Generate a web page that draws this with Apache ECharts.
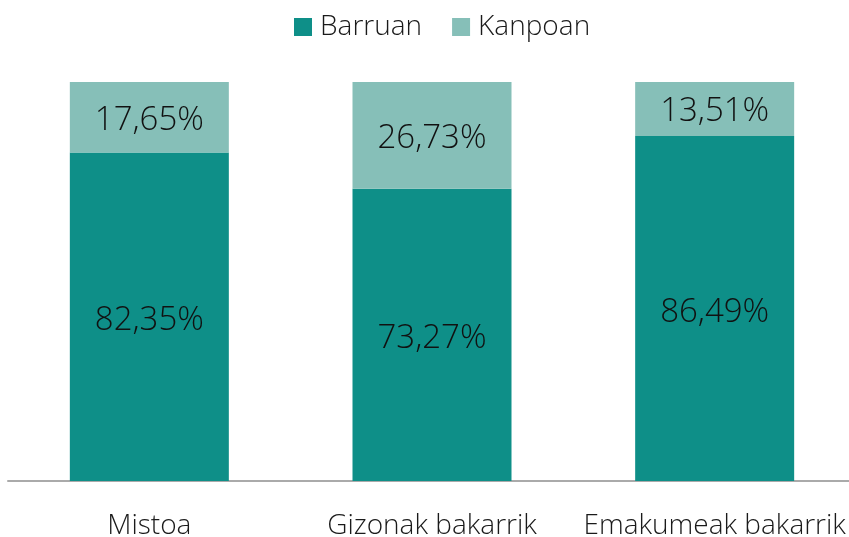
<!DOCTYPE html>
<html><head><meta charset="utf-8">
<script src="https://cdn.jsdelivr.net/npm/echarts@6/dist/echarts.min.js"></script>
<style>html,body{margin:0;padding:0;background:#fff}#c{width:849px;height:537px}</style>
</head><body><div id="c"></div>
<script>
const categories = ['Mistoa', 'Gizonak bakarrik', 'Emakumeak bakarrik'];
const barruan = [82.35, 73.27, 86.49];
const kanpoan = [17.65, 26.73, 13.51];
const FONT = '"Open Sans", sans-serif';
const fmt = p => p.value.toFixed(2).replace('.', ',') + '%';
const chart = echarts.init(document.getElementById('c'));
chart.setOption({
  animation: false,
  textStyle: { fontFamily: FONT },
  legend: {
    top: 8, left: 289, itemWidth: 18, itemHeight: 18, itemGap: 30,
    icon: 'rect',
    textStyle: { fontSize: 28, color: '#1a1a1a', fontFamily: FONT, fontWeight: 300, padding: [0, 0, 0, 3] },
    data: ['Barruan', 'Kanpoan']
  },
  grid: { left: 8, width: 848, top: 82, bottom: 56, containLabel: false, outerBoundsMode: 'none' },
  xAxis: {
    type: 'category', data: categories,
    axisLine: { lineStyle: { color: '#aaaaaa', width: 2 } },
    axisTick: { show: false },
    axisLabel: { interval: 0, hideOverlap: false, fontSize: 28, color: '#1a1a1a', margin: 31, fontFamily: FONT, fontWeight: 300 }
  },
  yAxis: { type: 'value', min: 0, max: 100, show: false, splitLine: { show: false } },
  series: [
    { name: 'Barruan', type: 'bar', stack: 't', data: barruan, barWidth: 159,
      itemStyle: { color: '#0e8f88' },
      label: { show: true, position: 'inside', offset: [0, 4], formatter: fmt, fontSize: 33, color: '#111', fontFamily: FONT, fontWeight: 300 } },
    { name: 'Kanpoan', type: 'bar', stack: 't', data: kanpoan, barWidth: 159,
      itemStyle: { color: '#86bfb8' },
      label: { show: true, position: 'inside', offset: [0, 3], formatter: fmt, fontSize: 33, color: '#111', fontFamily: FONT, fontWeight: 300 } }
  ]
});
</script></body></html>
